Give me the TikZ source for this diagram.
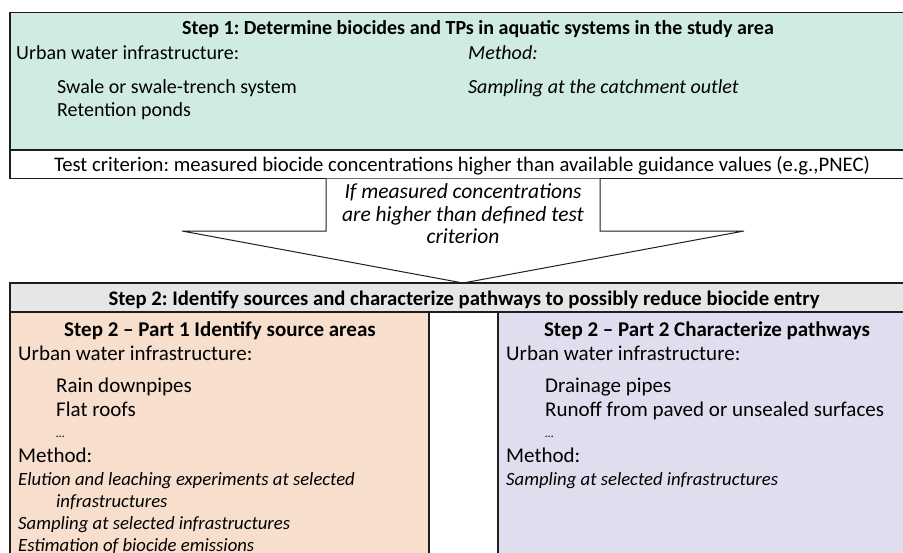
\documentclass[tikz,border=0pt]{standalone}
\usepackage{fontspec}
\setmainfont{Carlito}
\frenchspacing
\definecolor{tealbg}{RGB}{208,235,227}
\definecolor{graybg}{RGB}{230,230,230}
\definecolor{peachbg}{RGB}{248,222,205}
\definecolor{lavbg}{RGB}{224,222,238}
\definecolor{edge}{RGB}{30,30,30}
\tikzset{
  boxline/.style={draw=edge, line width=1.4pt},
  s1txt/.style={anchor=base west, inner sep=0pt, font=\fontsize{20}{22}\selectfont},
  s1it/.style={anchor=base west, inner sep=0pt, font=\fontsize{20}{22}\itshape},
  arrtxt/.style={anchor=base, inner sep=0pt, font=\fontsize{21.5}{24}\itshape},
  big/.style={anchor=base west, inner sep=0pt, font=\fontsize{21}{24}\selectfont},
  bigit/.style={anchor=base west, inner sep=0pt, font=\fontsize{18.7}{22}\itshape},
  dots/.style={anchor=base west, inner sep=0pt, font=\fontsize{12}{14}\selectfont},
  ttl/.style={anchor=base, inner sep=0pt, font=\fontsize{21}{24}\bfseries},
}
\begin{document}
\begin{tikzpicture}[x=1pt,y=-1pt]
\useasboundingbox (0,0) rectangle (903,552);
\clip (0,0) rectangle (903,552);
% boxes
\path[boxline, fill=tealbg] (10,12.5) rectangle (915,150);
\path[boxline, fill=white] (10,150) rectangle (915,178.5);
\draw[draw=edge, line width=1pt, fill=white] (326,178.5) -- (326,231) -- (182,231) -- (463,283) -- (744,231) -- (600,231) -- (600,178.5);
\path[boxline, fill=graybg] (10,283) rectangle (915,312);
\path[boxline, fill=peachbg] (10,312) rectangle (429,570);
\path[boxline, fill=lavbg] (498,312) rectangle (915,570);
% step 1
\node[anchor=base, inner sep=0pt, font=\fontsize{20}{22}\bfseries] (s1title) at (478,34) {Step 1: Determine biocides and TPs in aquatic systems in the study area};
\node[s1txt] (s1uwi) at (16,59) {Urban water infrastructure:};
\node[s1txt] (s1swale) at (57,93) {Swale or swale-trench system};
\node[s1txt] (s1ret) at (57,116) {Retention ponds};
\node[s1it] (s1meth) at (468,59) {Method:};
\node[s1it] (s1samp) at (468,93) {Sampling at the catchment outlet};
\node[anchor=base, inner sep=0pt, font=\fontsize{20.7}{23}\selectfont] (test) at (462,171) {Test criterion: measured biocide concentrations higher than available guidance values (e.g.,PNEC)};
% arrow text
\node[arrtxt] (ar1) at (463,198) {If measured concentrations};
\node[arrtxt] (ar2) at (463,221) {are higher than defined test};
\node[arrtxt] (ar3) at (463,243) {criterion};
% step 2 header
\node[anchor=base, inner sep=0pt, font=\fontsize{20.7}{23}\bfseries] (s2title) at (464,305) {Step 2: Identify sources and characterize pathways to possibly reduce biocide entry};
% part 1
\node[ttl] (p1title) at (220,336) {Step 2 -- Part 1 Identify source areas};
\node[big] (p1uwi) at (18,360) {Urban water infrastructure:};
\node[big] (p1rain) at (56,392) {Rain downpipes};
\node[big] (p1flat) at (56,416) {Flat roofs};
\node[dots] (p1dots) at (56,437) {…};
\node[big] (p1meth) at (18,462) {Method:};
\node[bigit] (p1e1) at (18,485) {Elution and leaching experiments at selected};
\node[bigit] (p1e2) at (56,507) {infrastructures};
\node[bigit] (p1e3) at (18,529) {Sampling at selected infrastructures};
\node[bigit] (p1e4) at (18,551) {Estimation of biocide emissions};
% part 2
\node[ttl] (p2title) at (707,336) {Step 2 -- Part 2 Characterize pathways};
\node[big] (p2uwi) at (506,360) {Urban water infrastructure:};
\node[big] (p2drain) at (545,392) {Drainage pipes};
\node[big] (p2run) at (545,416) {Runoff from paved or unsealed surfaces};
\node[dots] (p2dots) at (545,437) {…};
\node[big] (p2meth) at (506,462) {Method:};
\node[bigit] (p2samp) at (506,485) {Sampling at selected infrastructures};
\end{tikzpicture}
\end{document}
